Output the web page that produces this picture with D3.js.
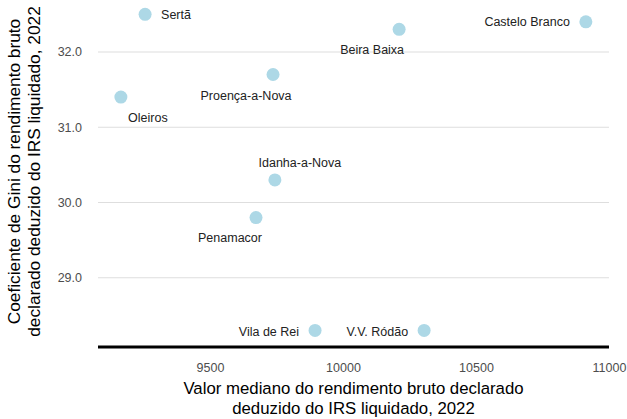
<!DOCTYPE html>
<html>
<head>
<meta charset="utf-8">
<script src="https://cdn.jsdelivr.net/npm/d3@7"></script>
<style>
  body { margin: 0; background: #fff; }
  text { font-family: "Liberation Sans", Arial, sans-serif; }
</style>
</head>
<body>
<div id="chart"></div>
<script>
// data
var concelhos = ["Sertã", "Castelo Branco", "Beira Baixa", "Proença-a-Nova", "Oleiros",
                 "Idanha-a-Nova", "Penamacor", "Vila de Rei", "V.V. Ródão"];
var mediana = [9256, 10913, 10211, 9737, 9165, 9744, 9673, 9895, 10305];
var gini = [32.5, 32.4, 32.3, 31.7, 31.4, 30.3, 29.8, 28.3, 28.3];
var xTicks = [9500, 10000, 10500, 11000];
var yTicks = [29, 30, 31, 32];

// label placement (repel-like offsets, in px)
var labelPos = [
  { dx: 16, dy: 0, anchor: "start" },
  { dx: -16, dy: 0, anchor: "end" },
  { dx: -27, dy: 20, anchor: "middle" },
  { dx: -27, dy: 21, anchor: "middle" },
  { dx: 27, dy: 21, anchor: "middle" },
  { dx: 25, dy: -17, anchor: "middle" },
  { dx: -26, dy: 20, anchor: "middle" },
  { dx: -16, dy: 1, anchor: "end" },
  { dx: -16, dy: 1, anchor: "end" }
];

var w = 627, h = 419;
var pLeft = 98, pRight = 609, pTop = 0, pBottom = 347;

var svg = d3.select("#chart").append("svg")
  .attr("width", w).attr("height", h);

var x = d3.scaleLinear().domain([9079, 11000]).range([pLeft, pRight]);
var y = d3.scaleLinear().domain([28.08, 32.69]).range([pBottom, pTop]);

// horizontal grid
svg.append("g").selectAll("line")
  .data(yTicks).enter().append("line")
  .attr("x1", pLeft).attr("x2", pRight)
  .attr("y1", function(d) { return y(d); })
  .attr("y2", function(d) { return y(d); })
  .attr("stroke", "#dedede").attr("stroke-width", 1.1);

// y axis labels
var yAxis = svg.append("g")
  .attr("transform", "translate(" + (pLeft - 7) + ",0)")
  .call(d3.axisLeft(y).tickValues(yTicks).tickFormat(d3.format(".1f")).tickSize(0).tickPadding(9));
yAxis.select(".domain").remove();
yAxis.selectAll("text").attr("font-size", 12.5).attr("fill", "#4d4d4d")
  .style("font-family", "Liberation Sans, Arial, sans-serif");

// x axis
var xAxis = svg.append("g")
  .attr("transform", "translate(0," + pBottom + ")")
  .call(d3.axisBottom(x).tickValues(xTicks).tickFormat(d3.format("d")).tickSize(0).tickPadding(16));
xAxis.select(".domain").remove();
xAxis.selectAll("text").attr("font-size", 12.5).attr("fill", "#4d4d4d")
  .style("font-family", "Liberation Sans, Arial, sans-serif");

svg.append("line")
  .attr("x1", pLeft).attr("x2", pRight)
  .attr("y1", pBottom).attr("y2", pBottom)
  .attr("stroke", "#000").attr("stroke-width", 2.8);

// points
svg.append("g").selectAll("circle")
  .data(concelhos).enter().append("circle")
  .attr("cx", function(d, i) { return x(mediana[i]); })
  .attr("cy", function(d, i) { return y(gini[i]); })
  .attr("r", 6.5)
  .attr("fill", "#add8e6");

// labels
svg.append("g").selectAll("text")
  .data(concelhos).enter().append("text")
  .attr("x", function(d, i) { return x(mediana[i]) + labelPos[i].dx; })
  .attr("y", function(d, i) { return y(gini[i]) + labelPos[i].dy; })
  .attr("dy", "0.35em")
  .attr("text-anchor", function(d, i) { return labelPos[i].anchor; })
  .attr("font-size", 12.5)
  .attr("fill", "#222")
  .text(function(d) { return d; });

// axis titles
var xt = svg.append("text")
  .attr("text-anchor", "middle")
  .attr("font-size", 16.8)
  .attr("fill", "#000");
xt.append("tspan").attr("x", (pLeft + pRight) / 2).attr("y", 394)
  .text("Valor mediano do rendimento bruto declarado");
xt.append("tspan").attr("x", (pLeft + pRight) / 2).attr("y", 414)
  .text("deduzido do IRS liquidado, 2022");

var yt = svg.append("text")
  .attr("text-anchor", "middle")
  .attr("font-size", 17.3)
  .attr("fill", "#000")
  .attr("transform", "translate(0," + ((pTop + pBottom) / 2 - 2) + ") rotate(-90)");
yt.append("tspan").attr("x", 0).attr("y", 20)
  .text("Coeficiente de Gini do rendimento bruto");
yt.append("tspan").attr("x", 0).attr("y", 40)
  .text("declarado deduzido do IRS liquidado, 2022");
</script>
</body>
</html>
